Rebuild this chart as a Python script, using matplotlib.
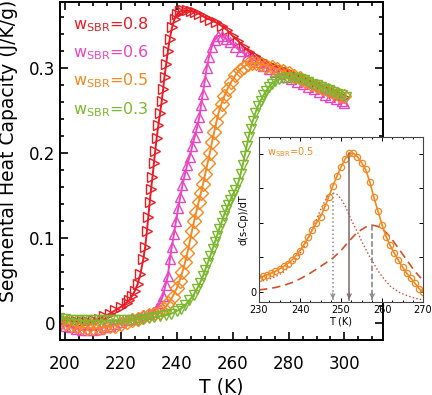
import numpy as np
import matplotlib.pyplot as plt
from matplotlib.ticker import MultipleLocator

plt.rcParams['font.family'] = ['DejaVu Sans']
plt.rcParams['mathtext.default'] = 'regular'

# main panel: segmental heat capacity
T_08 = [198, 200, 202, 204, 206, 208, 210, 212, 214, 216, 218, 220, 222, 223, 224, 225, 226, 227, 228,
        228.7, 229.3, 229.8, 230.3, 230.8, 231.3, 231.8, 232.3, 232.8, 233.4, 234, 234.6, 235.1, 235.6,
        236.2, 236.8, 237.5, 238.3, 239.2, 240.2, 241.2, 242.3, 243.5, 245, 246.5, 248, 250, 252, 254,
        256, 258, 260, 262, 264, 266, 268, 270, 272, 274, 276, 278, 280, 282, 284, 286, 288, 290, 292,
        294, 296, 298, 300]
cp_08 = [0.004, 0.003, 0.002, 0.002, 0.002, 0.002, 0.003, 0.005, 0.008, 0.011, 0.015, 0.019, 0.024, 0.027,
         0.032, 0.038, 0.046, 0.058, 0.075, 0.090, 0.108, 0.125, 0.142, 0.158, 0.172, 0.188, 0.203, 0.218,
         0.233, 0.247, 0.261, 0.275, 0.290, 0.305, 0.320, 0.335, 0.348, 0.358, 0.364, 0.367, 0.368, 0.368,
         0.367, 0.366, 0.364, 0.360, 0.357, 0.354, 0.350, 0.345, 0.338, 0.332, 0.325, 0.319, 0.314, 0.310,
         0.306, 0.303, 0.300, 0.298, 0.295, 0.292, 0.289, 0.286, 0.284, 0.281, 0.278, 0.275, 0.272, 0.269,
         0.266]

T_06 = [198, 200, 202, 204, 206, 208, 210, 212, 214, 216, 218, 220, 222, 224, 226, 228, 230, 231.5, 233,
        234, 235, 236, 236.8, 237.5, 238.2, 239, 239.7, 240.5, 241.2, 242, 242.9, 243.7, 244.6, 245.5,
        246.4, 247.3, 248.1, 248.7, 249.3, 250, 250.7, 251.5, 252.5, 253.5, 254.7, 256, 257.5, 259, 261,
        263, 265, 267, 269, 271, 273, 275, 277, 279, 281, 283, 285, 287, 289, 291, 293, 295, 297, 299, 300]
cp_06 = [0.0, -0.003, -0.005, -0.007, -0.008, -0.008, -0.008, -0.007, -0.005, -0.003, -0.001, 0.001, 0.003,
         0.005, 0.007, 0.009, 0.011, 0.013, 0.018, 0.023, 0.032, 0.045, 0.055, 0.075, 0.090, 0.105, 0.120,
         0.135, 0.148, 0.162, 0.175, 0.186, 0.196, 0.208, 0.219, 0.231, 0.243, 0.257, 0.270, 0.285, 0.300,
         0.313, 0.325, 0.333, 0.338, 0.338, 0.335, 0.331, 0.325, 0.320, 0.315, 0.311, 0.307, 0.303, 0.299,
         0.296, 0.293, 0.290, 0.287, 0.284, 0.281, 0.278, 0.275, 0.272, 0.269, 0.266, 0.264, 0.261, 0.259]

T_05 = [198, 200, 202, 204, 206, 208, 210, 212, 214, 216, 218, 220, 222, 224, 226, 228, 230, 232, 234,
        235.5, 237, 238.5, 240, 241, 242, 243, 243.8, 244.6, 245.4, 246.2, 247, 247.8, 248.6, 249.4, 250.2,
        251, 251.8, 252.6, 253.4, 254.2, 255, 256, 257, 258.2, 259.5, 261, 262.5, 264, 265.5, 267, 268.5,
        270, 272, 274, 276, 278, 280, 282, 284, 286, 288, 290, 292, 294, 296, 298, 300]
cp_05 = [0.002, 0.0, -0.002, -0.004, -0.005, -0.006, -0.006, -0.006, -0.005, -0.004, -0.003, -0.001, 0.001,
         0.003, 0.005, 0.007, 0.009, 0.011, 0.013, 0.017, 0.023, 0.031, 0.041, 0.050, 0.060, 0.072, 0.083,
         0.095, 0.108, 0.120, 0.131, 0.142, 0.153, 0.164, 0.176, 0.188, 0.200, 0.213, 0.225, 0.237, 0.248,
         0.258, 0.267, 0.276, 0.284, 0.292, 0.298, 0.302, 0.305, 0.306, 0.306, 0.305, 0.303, 0.301, 0.299,
         0.297, 0.294, 0.291, 0.288, 0.285, 0.282, 0.279, 0.277, 0.274, 0.272, 0.269, 0.267]

T_03 = [198, 200, 202, 204, 206, 208, 210, 212, 214, 216, 218, 220, 222, 224, 226, 228, 230, 232, 234,
        236, 238, 240, 241.5, 243, 244.5, 246, 247.2, 248.3, 249.3, 250.2, 251.1, 252, 252.8, 253.6, 254.4,
        255.2, 256, 256.8, 257.6, 258.4, 259.2, 260, 261, 262, 262.8, 263.6, 264.3, 265, 265.7, 266.4,
        267.2, 268.1, 269, 270, 271, 272, 273, 274, 275.2, 276.5, 278, 279.5, 281, 282.5, 284, 285.5, 287,
        288.5, 290, 291.5, 293, 294.5, 296, 297.5, 299, 300.5]
cp_03 = [0.006, 0.005, 0.004, 0.004, 0.003, 0.003, 0.003, 0.003, 0.003, 0.003, 0.003, 0.003, 0.003, 0.004,
         0.004, 0.005, 0.006, 0.007, 0.008, 0.009, 0.011, 0.014, 0.017, 0.021, 0.027, 0.033, 0.040, 0.047,
         0.055, 0.063, 0.071, 0.079, 0.087, 0.095, 0.103, 0.111, 0.118, 0.126, 0.133, 0.139, 0.145, 0.151,
         0.157, 0.165, 0.175, 0.186, 0.197, 0.208, 0.219, 0.229, 0.238, 0.247, 0.255, 0.262, 0.268, 0.273,
         0.278, 0.282, 0.285, 0.287, 0.289, 0.289, 0.289, 0.288, 0.287, 0.286, 0.284, 0.282, 0.280, 0.278,
         0.276, 0.274, 0.272, 0.270, 0.268, 0.266]

series = [
    (T_08, cp_08, '0.8', '#ec1c24', '>'),
    (T_06, cp_06, '0.6', '#ec45c0', '^'),
    (T_05, cp_05, '0.5', '#f7871f', 'D'),
    (T_03, cp_03, '0.3', '#7cb82f', 'v'),
]

# inset: d(s-Cp)/dT for w_SBR = 0.5 (arbitrary units)
T_in = list(range(230, 271))
d_in = [0.40, 0.45, 0.50, 0.55, 0.60, 0.67, 0.74, 0.82, 0.92, 1.05, 1.20, 1.38, 1.58, 1.80, 2.00, 2.18,
        2.45, 2.75, 3.07, 3.35, 3.62, 3.85, 4.02, 4.02, 3.92, 3.75, 3.55, 3.20, 2.75, 2.35, 1.95, 1.60,
        1.35, 1.12, 0.92, 0.72, 0.55, 0.40, 0.26, 0.10, 0.0]
T_low = [230, 232, 234, 236, 238, 240, 241, 242, 243, 244, 245, 246, 247, 248, 249, 250, 251, 252, 253,
         254, 255, 256, 257, 258, 259, 260, 262, 264, 266, 268, 270]
d_low = [0.30, 0.35, 0.44, 0.58, 0.80, 1.12, 1.32, 1.55, 1.82, 2.10, 2.38, 2.62, 2.80, 2.87, 2.83, 2.70,
         2.50, 2.22, 1.97, 1.74, 1.48, 1.25, 1.02, 0.82, 0.62, 0.45, 0.17, 0.0, -0.10, -0.18, -0.23]
T_high = [230, 232, 234, 236, 238, 240, 242, 244, 246, 248, 250, 252, 254, 256, 257.5, 259, 260.5, 262,
          263.5, 265, 266.5, 268, 269.5]
d_high = [0.06, 0.09, 0.13, 0.19, 0.27, 0.38, 0.51, 0.66, 0.82, 0.98, 1.20, 1.48, 1.73, 1.88, 1.94, 1.90,
          1.78, 1.60, 1.35, 1.10, 0.85, 0.60, 0.40]
peak_T = [248.0, 252.0, 257.6]
peak_h = [2.87, 4.02, 1.94]
peak_style = [(':', '#8a8a8a'), ('-', '#7d6a6a'), ('--', '#808080')]

fig = plt.figure(figsize=(4.32, 3.95), dpi=100)
ax = fig.add_axes([60 / 432, 55 / 395, 323 / 432, 338 / 395])

for T, cp, w, c, m in series:
    ax.plot(T, cp, color=c, lw=1.4, marker=m, ms=7.5, mfc='none', mec=c, mew=1.0)

ax.set_xlim(198.2, 313.8)
ax.set_ylim(-0.02, 0.378)
ax.xaxis.set_major_locator(MultipleLocator(20))
ax.xaxis.set_minor_locator(MultipleLocator(5))
ax.set_yticks([0, 0.1, 0.2, 0.3])
ax.set_yticklabels(['0', '0.1', '0.2', '0.3'])
ax.yaxis.set_minor_locator(MultipleLocator(0.02))
ax.tick_params(which='both', direction='in', top=True, right=True, labelsize=12, width=1.2)
ax.tick_params(axis='x', which='major', pad=11)
ax.tick_params(which='major', length=6)
ax.tick_params(which='minor', length=3)
for s in ax.spines.values():
    s.set_linewidth(1.4)
ax.set_xlabel('T (K)', fontsize=13.5, labelpad=3)
ax.set_ylabel('Segmental Heat Capacity (J/K/g)', fontsize=13.5)
ax.yaxis.set_label_coords(-0.13, 0.56)

for i, (T, cp, w, c, m) in enumerate(series):
    fig.text(73 / 432, (395 - 29 - 28.3 * i) / 395, r'$w_{SBR}$=' + w, color=c,
             fontsize=11.5, va='baseline')

# inset
ax2 = fig.add_axes([259 / 432, 93 / 395, 164 / 432, 165 / 395])
oc = '#f7871f'
ax2.plot(T_low, d_low, ls=':', color='#d5452a', lw=1.0)
ax2.plot(T_high, d_high, ls=(0, (5, 3)), color='#d5502a', lw=1.2)
ax2.plot(T_in, d_in, color=oc, lw=1.2, marker='o', ms=4.5, mfc='none', mec=oc, mew=0.9)
ybot = -0.29
for t, h, (ls, c) in zip(peak_T, peak_h, peak_style):
    ax2.plot([t, t], [h, ybot + 0.05], ls=ls, color=c, lw=1.1)
    ax2.annotate('', xy=(t, ybot), xytext=(t, ybot + 0.35),
                 arrowprops=dict(arrowstyle='->,head_length=0.3,head_width=0.15', color=c, lw=0.8))
ax2.set_xlim(230, 270)
ax2.set_ylim(ybot, 4.49)
ax2.xaxis.set_major_locator(MultipleLocator(10))
ax2.xaxis.set_minor_locator(MultipleLocator(2.5))
ax2.set_yticks([0, 1, 2, 3, 4])
ax2.set_yticklabels(['0', '', '', '', ''])
ax2.tick_params(which='both', direction='in', top=True, right=True, labelsize=7, pad=2, width=0.7)
ax2.tick_params(which='major', length=3)
ax2.tick_params(which='minor', length=1.5)
for s in ax2.spines.values():
    s.set_linewidth(0.8)
    s.set_color('#444444')
ax2.set_xlabel('T (K)', fontsize=7, labelpad=1)
ax2.set_ylabel('d(s-Cp)/dT', fontsize=7, labelpad=1)
ax2.text(0.05, 0.89, r'$w_{SBR}$=0.5', transform=ax2.transAxes, color=oc, fontsize=7, va='baseline')

fig.savefig('out.png', dpi=100)
